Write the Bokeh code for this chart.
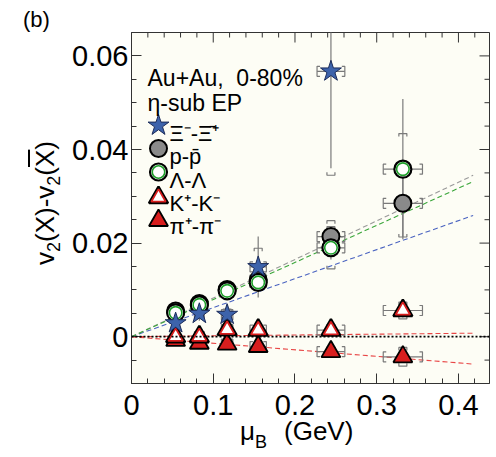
import numpy as np
from bokeh.plotting import figure
from bokeh.layouts import row, column
from bokeh.models import Range1d, FixedTicker, Label, Span, Div
from bokeh.embed import file_html
from bokeh.resources import INLINE

# ---------------- data ----------------
mu_B = [0.054, 0.083, 0.117, 0.155, 0.244, 0.332]
mu_B_err = [0.004, 0.006, 0.007, 0.010, 0.017, 0.024]

xi_dv2 = [0.0029, 0.0049, 0.0047, 0.0149, 0.0567]
xi_stat = [0.0012, 0.0015, 0.0022, 0.0065, 0.0207]
xi_sys = [0.0008, 0.0010, 0.0012, 0.0040, 0.0222]

p_dv2 = [0.0055, 0.0071, 0.0101, 0.0121, 0.0214, 0.0285]
p_stat = [0.0004, 0.0005, 0.0007, 0.0009, 0.0016, 0.0072]
p_sys = [0.0006, 0.0008, 0.0010, 0.0012, 0.0034, 0.0072]

lam_dv2 = [0.0051, 0.0068, 0.0098, 0.0116, 0.0190, 0.0358]
lam_stat = [0.0006, 0.0008, 0.0010, 0.0014, 0.0025, 0.0150]
lam_sys = [0.0007, 0.0009, 0.0011, 0.0013, 0.0045, 0.0076]

k_dv2 = [0.0000, 0.0000, 0.0015, 0.0014, 0.0014, 0.0056]
k_stat = [0.0004, 0.0005, 0.0006, 0.0008, 0.0010, 0.0015]
k_sys = [0.0005, 0.0006, 0.0008, 0.0010, 0.0012, 0.0018]

pi_dv2 = [-0.0008, -0.0014, -0.0016, -0.0021, -0.0032, -0.0043]
pi_stat = [0.0003, 0.0004, 0.0005, 0.0006, 0.0008, 0.0012]
pi_sys = [0.0004, 0.0005, 0.0006, 0.0008, 0.0010, 0.0020]

series_names = ["Ξ⁻-Ξ̄⁺", "p-p̄", "Λ-Λ", "K⁺-K⁻", "π⁺-π⁻"]
header_lines = ["Au+Au,\u00a0\u00a00-80%", "η-sub EP"]

# linear fits through the origin: slope per species (Ξ, p, Λ, K, π)
fit_slopes = [0.062, 0.0825, 0.0793, 0.0018, -0.014]
fit_colors = ["#4a63c0", "#9a9a9a", "#3aa63a", "#e84545", "#e84545"]
fit_x_max = 0.418

x_ticks = [0, 0.1, 0.2, 0.3, 0.4]
x_tick_labels = ["0", "0.1", "0.2", "0.3", "0.4"]
y_ticks = [0, 0.02, 0.04, 0.06]
y_tick_labels = ["0", "0.02", "0.04", "0.06"]
x_minor = [round(v, 3) for v in np.arange(0, 0.44, 0.02)]
y_minor = [round(v, 4) for v in np.arange(-0.01, 0.066, 0.005)]

# ---------------- geometry (page pixels, page origin at 0,0) ----------------
X0, X1 = 0.0, 0.438
Y0, Y1 = -0.01, 0.065
TOTAL_W, TOTAL_H = 496, 452
LW = 64                      # left text column
FW = TOTAL_W - LW            # figure width
BL, BR, BT, BB = 131 - LW, 7, 32, 45
FH = 383 + BB                # figure height
FL, FR = LW + BL, LW + FW - BR
FT, FB = BT, FH - BB
kx = (FR - FL) / (X1 - X0)
ky = (FB - FT) / (Y1 - Y0)


def sx(px):
    return X0 + (px - FL) / kx


def sy(py):
    return Y0 + (FB - py) / ky


FONT = "Liberation Sans"
AX = "#333333"

p = figure(width=FW, height=FH, x_range=Range1d(X0, X1), y_range=Range1d(Y0, Y1),
           output_backend="svg", toolbar_location=None,
           min_border_left=BL, min_border_right=BR, min_border_top=BT,
           min_border_bottom=BB, background_fill_color="#fdfdf5",
           border_fill_color="white", margin=0)
p.grid.visible = False
p.outline_line_color = AX
p.outline_line_width = 1


def style_axis(ax, ticks, minor, labels, standoff):
    ax.ticker = FixedTicker(ticks=ticks, minor_ticks=minor)
    ax.major_tick_in = 10
    ax.major_tick_out = 0
    ax.minor_tick_in = 5
    ax.minor_tick_out = 0
    ax.axis_line_color = AX
    ax.major_tick_line_color = AX
    ax.minor_tick_line_color = AX
    ax.major_label_overrides = {t: l for t, l in zip(ticks, labels)}
    ax.major_label_text_font = FONT
    ax.major_label_text_font_size = "29px"
    ax.major_label_text_color = "black"
    ax.major_label_standoff = standoff


style_axis(p.xaxis[0], x_ticks, x_minor, x_tick_labels, 11)
style_axis(p.yaxis[0], y_ticks, y_minor, y_tick_labels, 3)

# mirrored ticks on the top and right edges (same tick lists as the axes)
xm = [t for t in x_minor if t not in x_ticks]
ym = [t for t in y_minor if t not in y_ticks]
p.segment(x0=x_ticks, y0=[Y1] * len(x_ticks), x1=x_ticks,
          y1=[Y1 - 10 / ky] * len(x_ticks), line_color=AX)
p.segment(x0=xm, y0=[Y1] * len(xm), x1=xm, y1=[Y1 - 5 / ky] * len(xm),
          line_color=AX)
p.segment(x0=[X1] * len(y_ticks), y0=y_ticks, x1=[X1 - 10 / kx] * len(y_ticks),
          y1=y_ticks, line_color=AX)
p.segment(x0=[X1] * len(ym), y0=ym, x1=[X1 - 5 / kx] * len(ym), y1=ym,
          line_color=AX)

# ---------------- fit lines ----------------
for s, c in zip(fit_slopes, fit_colors):
    p.line([0, fit_x_max], [0, s * fit_x_max], line_color=c, line_dash="5 3",
           line_width=1.1)
p.add_layout(Span(location=0, dimension="width", line_color="black",
                  line_dash="2 2", line_width=1.8))

# ---------------- error bars ----------------
EC = "#7a7a7a"
bw = 4 / kx      # bracket half width (x)
bh = 3 / ky      # bracket leg (y)
hw = 5 / ky      # horizontal-bracket half height
hl = 3 / kx      # horizontal-bracket leg


def errors(xs, ys, stat, sys, xerr):
    n = len(ys)
    xs = xs[:n]
    xerr = xerr[:n]
    p.segment(x0=xs, y0=[y - s for y, s in zip(ys, stat)], x1=xs,
              y1=[y + s for y, s in zip(ys, stat)], line_color=EC, line_width=1.2)
    bx, by = [], []
    for x, y, s in zip(xs, ys, sys):
        t = y + s
        b = y - s
        bx.append([x - bw, x - bw, x + bw, x + bw])
        by.append([t - bh, t, t, t - bh])
        bx.append([x - bw, x - bw, x + bw, x + bw])
        by.append([b + bh, b, b, b + bh])
    p.multi_line(bx, by, line_color=EC, line_width=1.2)
    p.segment(x0=[x - e for x, e in zip(xs, xerr)], y0=ys,
              x1=[x + e for x, e in zip(xs, xerr)], y1=ys,
              line_color=EC, line_width=1.2)
    hx, hy = [], []
    for x, y, e in zip(xs, ys, xerr):
        l = x - e
        r = x + e
        hx.append([l + hl, l, l, l + hl])
        hy.append([y + hw, y + hw, y - hw, y - hw])
        hx.append([r - hl, r, r, r - hl])
        hy.append([y + hw, y + hw, y - hw, y - hw])
    p.multi_line(hx, hy, line_color=EC, line_width=1.2)


errors(mu_B, p_dv2, p_stat, p_sys, mu_B_err)
errors(mu_B, lam_dv2, lam_stat, lam_sys, mu_B_err)
errors(mu_B, pi_dv2, pi_stat, pi_sys, mu_B_err)
errors(mu_B, k_dv2, k_stat, k_sys, mu_B_err)
errors(mu_B, xi_dv2, xi_stat, xi_sys, mu_B_err)

# ---------------- markers ----------------
GREEN = "#1e9e2a"
RED = "#d81e1e"
BLUE = "#3d63ab"


def m_p(x, y):
    p.scatter(x, y, marker="circle", size=17, fill_color="#8a8a8a",
              line_color="black", line_width=2)


def m_lam(x, y):
    p.scatter(x, y, marker="circle", size=17, fill_color="white",
              line_color="black", line_width=2.2)
    p.scatter(x, y, marker="circle", size=12.5, fill_color=None,
              line_color=GREEN, line_width=1.6)


def m_pi(x, y):
    p.scatter(x, y, marker="triangle", size=19, fill_color=RED,
              line_color="black", line_width=1.8)


def m_k(x, y):
    p.scatter(x, y, marker="triangle", size=19, fill_color="white",
              line_color="black", line_width=2.4)
    p.scatter(x, y, marker="triangle", size=14.5, fill_color="white",
              line_color=RED, line_width=1.8)


def m_xi(x, y):
    p.scatter(x, y, marker="star", size=22, fill_color=BLUE,
              line_color="#1c2c5a", line_width=1)


m_p(mu_B, p_dv2)
m_lam(mu_B, lam_dv2)
m_pi(mu_B, pi_dv2)
m_k(mu_B, k_dv2)
m_xi(mu_B[:len(xi_dv2)], xi_dv2)

# ---------------- legend (inside the frame) ----------------
def label(px, py, text, size):
    p.add_layout(Label(x=sx(px), y=sy(py), text=text, text_font=FONT,
                       text_font_size=size, text_color="black",
                       text_align="left", text_baseline="alphabetic"))


label(147, 77, header_lines[0], "23px")
label(147, 102, header_lines[1], "23px")

row_py = [125, 148, 171.5, 195, 218]
mx = sx(158)
makers = [m_xi, m_p, m_lam, m_k, m_pi]
for f, ry, name in zip(makers, row_py, series_names):
    f([mx], [sy(ry + (2 if f in (m_k, m_pi) else 0))])
    label(169, ry + 8, name, "22px")

# ---------------- texts outside the frame (HTML) ----------------
FF = "font-family:'Liberation Sans',Arial,sans-serif;color:black;"
left_html = (
    f'<div style="position:relative;width:{LW}px;height:300px;{FF}">'
    '<div style="position:absolute;left:23px;top:9px;font-size:22px;'
    'line-height:1;white-space:nowrap;">(b)</div>'
    '<div style="position:absolute;left:45px;top:203px;font-size:26px;'
    'line-height:1;white-space:nowrap;'
    'transform:translate(-50%,-50%) rotate(-90deg);">'
    'v<span style="font-size:18px;position:relative;top:6px;">2</span>(X)-'
    'v<span style="font-size:18px;position:relative;top:6px;">2</span>('
    '<span style="text-decoration:overline;">X</span>)</div></div>'
)
bottom_h = TOTAL_H - FH
btop = 438 - FH - 22
bottom_html = (
    f'<div style="position:relative;width:{FW - 10}px;height:10px;{FF}">'
    f'<div style="position:absolute;left:{240 - LW}px;top:{btop}px;font-size:26px;'
    'line-height:1;white-space:nowrap;">μ<span style="font-size:18px;'
    'position:relative;top:8px;">B</span></div>'
    f'<div style="position:absolute;left:{284 - LW}px;top:{btop}px;font-size:26px;'
    'line-height:1;white-space:nowrap;">(GeV)</div></div>'
)
left_div = Div(text=left_html, width=LW, height=TOTAL_H, margin=0)
bottom_div = Div(text=bottom_html, width=FW, height=bottom_h, margin=0)

layout = row(left_div, column(p, bottom_div, spacing=0, margin=0),
             spacing=0, margin=0)

open("out.html", "w").write(file_html(layout, INLINE))
